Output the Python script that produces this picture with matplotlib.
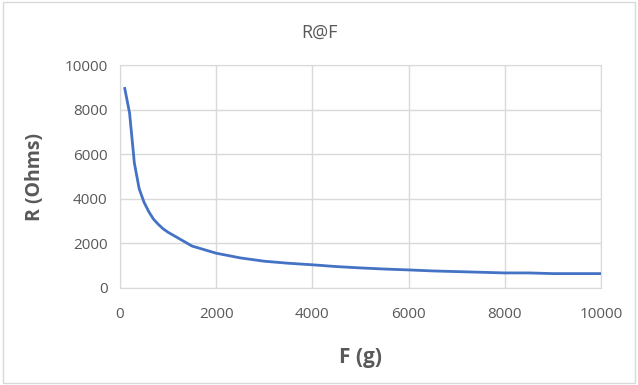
import matplotlib
matplotlib.use('Agg')
from matplotlib import pyplot as plt
from matplotlib.patches import Rectangle

force_g = [100, 200, 300, 400, 500, 600, 700, 800, 900, 1000, 1500, 2000, 2500,
           3000, 3500, 4000, 4500, 5000, 5500, 6000, 6500, 7000, 7500, 8000,
           8500, 9000, 9500, 10000]
resistance = [8950, 7850, 5600, 4450, 3850, 3420, 3080, 2850, 2650, 2500, 1880,
              1560, 1350, 1200, 1110, 1040, 960, 900, 850, 810, 765, 735, 705,
              675, 675, 645, 645, 645]
xticks = [0, 2000, 4000, 6000, 8000, 10000]
yticks = [0, 2000, 4000, 6000, 8000, 10000]

plt.rcParams['font.family'] = ['Open Sans', 'DejaVu Sans']

fig = plt.figure(figsize=(6.38, 3.85), dpi=100)
ax = fig.add_axes([0.188, 0.252, 0.754, 0.579])

ax.plot(force_g, resistance, color='#4472C4', linewidth=2)

ax.set_xlim(0, 10000)
ax.set_ylim(0, 10000)
ax.set_xticks(xticks)
ax.set_yticks(yticks)
ax.grid(True, color='#d9d9d9', linewidth=1)
ax.set_axisbelow(True)
for s in ax.spines.values():
    s.set_color('#d9d9d9')
ax.tick_params(length=0, labelsize=11, colors='#595959')
ax.tick_params(axis='x', pad=14)
ax.tick_params(axis='y', pad=9)

ax.set_xlabel('F (g)', fontsize=15, fontweight='bold', color='#595959', labelpad=18)
ax.set_ylabel('R (Ohms)', fontsize=14, fontweight='bold', color='#595959', labelpad=14)
fig.text(0.5, 0.915, 'R@F', ha='center', va='center', fontsize=13, color='#595959')

fig.patches.append(Rectangle((0.004, 0.005), 0.992, 0.99, transform=fig.transFigure,
                             fill=False, edgecolor='#d9d9d9', linewidth=1))

fig.savefig('out.png', dpi=100)
